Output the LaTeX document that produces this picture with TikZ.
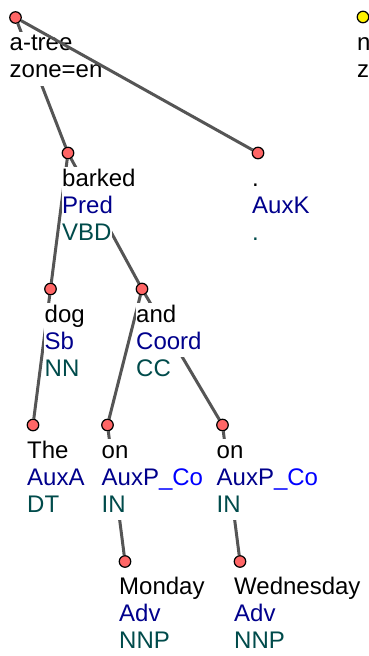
\documentclass[tikz,border=0pt]{standalone}
\usepackage{fontspec}
\setmainfont{Liberation Sans}
\usetikzlibrary{calc, backgrounds}

\definecolor{dotred}{RGB}{255,102,102}
\definecolor{edgegray}{RGB}{85,85,85}
\definecolor{afunblue}{RGB}{0,0,140}
\definecolor{tagteal}{RGB}{0,75,75}

\begin{document}
\begin{tikzpicture}[
    x=1pt, y=1pt,
    font=\fontsize{24}{26}\selectfont,
    % Define styles for the tree parts
    dot/.style={circle, draw=black, line width=1.2pt, fill=dotred, inner sep=0pt, minimum size=11.5pt},
    yellowdot/.style={dot, fill=yellow},
    wordtxt/.style={anchor=base west, inner xsep=0.5pt, inner ysep=0pt, text height=19pt, text depth=8pt, fill=white, text=black},
    afuntxt/.style={wordtxt, text=afunblue},
    tagtxt/.style={wordtxt, text=tagteal},
    treeedge/.style={draw=edgegray, line width=3pt},
]
\useasboundingbox (0,0) rectangle (369,-656);
\clip (0,0) rectangle (369,-656);

% -------------------------
% Tree nodes
% -------------------------
\node (root) [dot] at (15.5,-17.5) {};
\node (ntree) [yellowdot] at (363,-17) {};

\node (barked) [dot] at (68,-153) {};
\node (period) [dot] at (258,-153) {};

\node (dog) [dot] at (50.5,-289) {};
\node (and) [dot] at (142,-289) {};

\node (the) [dot] at (33,-425) {};
\node (onA) [dot] at (107.5,-425) {};
\node (onB) [dot] at (222.5,-425) {};

\node (monday) [dot] at (125,-561.5) {};
\node (wednesday) [dot] at (240,-561.5) {};

% -------------------------
% Labels
% -------------------------
\node (rootw) [wordtxt] at ($(root)+(-6.5,-33)$) {a-tree};
\node (roota) [wordtxt] at ($(root)+(-6.5,-60)$) {zone=en};

\node (ntreew) [wordtxt] at ($(ntree)+(-6.5,-33)$) {n};
\node (ntreea) [wordtxt] at ($(ntree)+(-6.5,-60)$) {z};

\node (barkedw) [wordtxt] at ($(barked)+(-6.5,-33)$) {barked};
\node (barkeda) [afuntxt] at ($(barked)+(-6.5,-60)$) {Pred};
\node (barkedt) [tagtxt] at ($(barked)+(-6.5,-87)$) {VBD};

\node (periodw) [wordtxt] at ($(period)+(-6.5,-33)$) {.};
\node (perioda) [afuntxt] at ($(period)+(-6.5,-60)$) {AuxK};
\node (periodt) [tagtxt] at ($(period)+(-6.5,-87)$) {.};

\node (dogw) [wordtxt] at ($(dog)+(-6.5,-33)$) {dog};
\node (doga) [afuntxt] at ($(dog)+(-6.5,-60)$) {Sb};
\node (dogt) [tagtxt] at ($(dog)+(-6.5,-87)$) {NN};

\node (andw) [wordtxt] at ($(and)+(-6.5,-33)$) {and};
\node (anda) [afuntxt] at ($(and)+(-6.5,-60)$) {Coord};
\node (andt) [tagtxt] at ($(and)+(-6.5,-87)$) {CC};

\node (thew) [wordtxt] at ($(the)+(-6.5,-33)$) {The};
\node (thea) [afuntxt] at ($(the)+(-6.5,-60)$) {AuxA};
\node (thet) [tagtxt] at ($(the)+(-6.5,-87)$) {DT};

\node (onAw) [wordtxt] at ($(onA)+(-6.5,-33)$) {on};
\node (onAa) [afuntxt] at ($(onA)+(-6.5,-60)$) {AuxP\textcolor{blue}{\_Co}};
\node (onAt) [tagtxt] at ($(onA)+(-6.5,-87)$) {IN};

\node (onBw) [wordtxt] at ($(onB)+(-6.5,-33)$) {on};
\node (onBa) [afuntxt] at ($(onB)+(-6.5,-60)$) {AuxP\textcolor{blue}{\_Co}};
\node (onBt) [tagtxt] at ($(onB)+(-6.5,-87)$) {IN};

\node (mondayw) [wordtxt] at ($(monday)+(-6.5,-33)$) {Monday};
\node (mondaya) [afuntxt] at ($(monday)+(-6.5,-60)$) {Adv};
\node (mondayt) [tagtxt] at ($(monday)+(-6.5,-87)$) {NNP};

\node (wednesdayw) [wordtxt] at ($(wednesday)+(-6.5,-33)$) {Wednesday};
\node (wednesdaya) [afuntxt] at ($(wednesday)+(-6.5,-60)$) {Adv};
\node (wednesdayt) [tagtxt] at ($(wednesday)+(-6.5,-87)$) {NNP};

% -------------------------
% Edges
% -------------------------
\begin{scope}[on background layer]
    \draw[treeedge] (root) -- (barked);
    \draw[treeedge] (barked) -- (dog);
    \draw[treeedge] (barked) -- (and);
    \draw[treeedge] (dog) -- (the);
    \draw[treeedge] (and) -- (onA);
    \draw[treeedge] (and) -- (onB);
    \draw[treeedge] (onA) -- (monday);
    \draw[treeedge] (onB) -- (wednesday);
\end{scope}
% this one runs over the root label
\draw[treeedge] (root) -- (period);

\end{tikzpicture}
\end{document}
